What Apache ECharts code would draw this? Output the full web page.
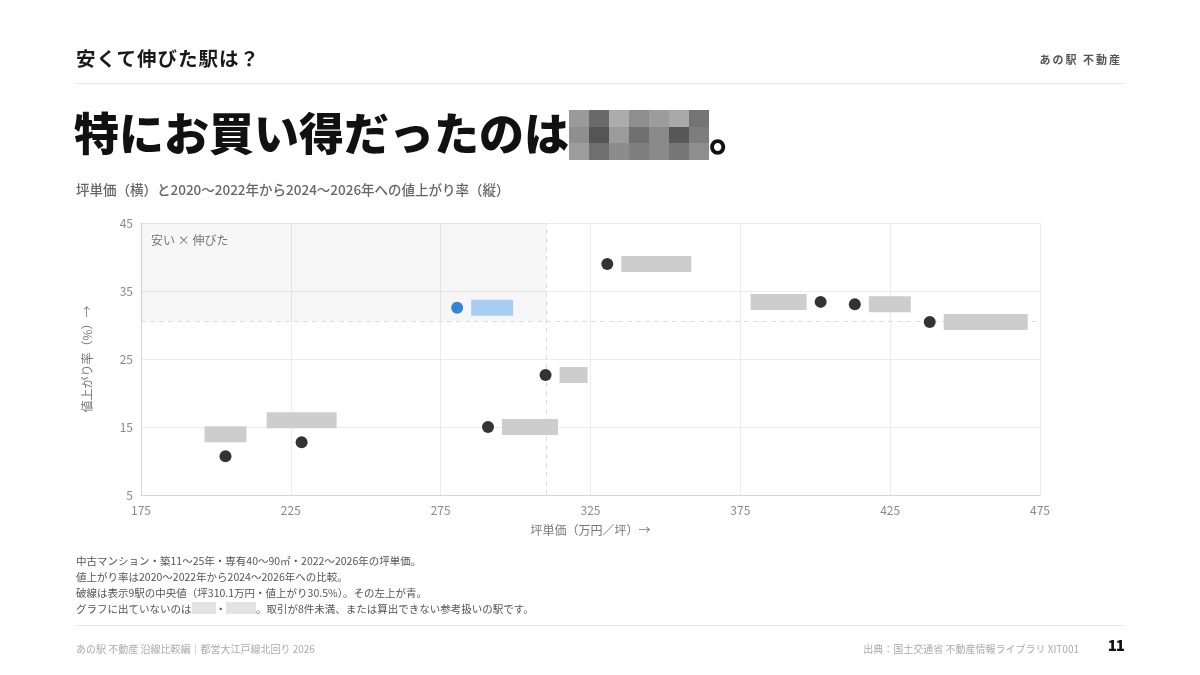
<!DOCTYPE html>
<html>
<head>
<meta charset="utf-8">
<script src="https://cdn.jsdelivr.net/npm/echarts@6/dist/echarts.min.js"></script>
<style>
  html, body { margin: 0; padding: 0; background: #fff; }
  body { width: 1200px; height: 675px; position: relative; overflow: hidden;
         font-family: "Noto Sans CJK JP", "Noto Sans", sans-serif; }
  #chart { position: absolute; left: 0; top: 0; width: 1200px; height: 675px; }
  .abs { position: absolute; white-space: nowrap; }
  .kicker { left: 76px; top: 43px; font-size: 19.5px; font-weight: 700; color: #1a1a1a; letter-spacing: 1px; }
  .brand { right: 78px; top: 51px; font-size: 11px; font-weight: 700; color: #555; letter-spacing: 2px; }
  .rule { left: 76px; width: 1048px; height: 1px; background: #e6e6e6; }
  .title { left: 74px; top: 100px; font-size: 45px; font-weight: 900; color: #111; line-height: 64px; }
  .redact { display: inline-block; vertical-align: -9px; width: 140px; height: 50px; }
  .redact span { float: left; width: 20px; height: 16.66px; }
  .sub { left: 76px; top: 179px; font-size: 13.5px; font-weight: 500; color: #666; }
  .notes { left: 76px; top: 553px; font-size: 10.5px; color: #555; line-height: 16px; }
  .blk { display: inline-block; width: 24px; height: 12px; background: #e2e2e2; vertical-align: -1px; }
  .foot { top: 641px; font-size: 10px; color: #aaa; }
  .page { right: 76px; top: 634px; font-size: 15px; font-weight: 900; color: #111; letter-spacing: -1px; }
</style>
</head>
<body>
<div id="chart"></div>

<div class="abs kicker">安くて伸びた駅は？</div>
<div class="abs brand">あの駅 不動産</div>
<div class="abs rule" style="top:83px"></div>
<div class="abs title">特にお買い得だったのは<span class="redact" id="mosaic"></span>。</div>
<div class="abs sub">坪単価（横）と2020〜2022年から2024〜2026年への値上がり率（縦）</div>

<div class="abs notes">
  中古マンション・築11〜25年・専有40〜90㎡・2022〜2026年の坪単価。<br>
  値上がり率は2020〜2022年から2024〜2026年への比較。<br>
  破線は表示9駅の中央値（坪310.1万円・値上がり30.5%）。その左上が青。<br>
  グラフに出ていないのは<span class="blk"></span>・<span class="blk" style="width:30px"></span>。取引が8件未満、または算出できない参考扱いの駅です。
</div>
<div class="abs rule" style="top:625px"></div>
<div class="abs foot" style="left:76px">あの駅 不動産 沿線比較編｜都営大江戸線北回り 2026</div>
<div class="abs foot" style="right:121px">出典：国土交通省 不動産情報ライブラリ XIT001</div>
<div class="abs page">11</div>

<script>
// station values (names are redacted in the source, only their length is known)
const price = [203.2, 228.6, 280.5, 290.8, 310.0, 330.6, 401.8, 413.2, 438.2];
const growth = [10.7, 12.75, 32.55, 15.0, 22.65, 38.97, 33.4, 33.05, 30.45];
const nameLength = [3, 5, 3, 4, 2, 5, 4, 3, 6];
const labelSide = ['top', 'top', 'right', 'right', 'right', 'right', 'left', 'right', 'right'];
const highlight = [false, false, true, false, false, false, false, false, false];

const medianPrice = 310.1;
const medianGrowth = 30.5;

const xTicks = { min: 175, max: 475, interval: 50 };
const yTicks = { min: 5, max: 45, interval: 10 };

// mosaic for the redacted station name in the headline
const mosaicGrays = [
  '#9a9a9a', '#6a6a6a', '#acacac', '#8e8e8e', '#9c9c9c', '#a9a9a9', '#747474',
  '#8f8f8f', '#555555', '#9b9b9b', '#6f6f6f', '#8a8a8a', '#585858', '#7d7d7d',
  '#9d9d9d', '#707070', '#8c8c8c', '#7f7f7f', '#8a8a8a', '#777777', '#8e8e8e'
];
const mosaic = document.getElementById('mosaic');
mosaicGrays.forEach(c => {
  const s = document.createElement('span');
  s.style.background = c;
  mosaic.appendChild(s);
});

const font = '"Noto Sans CJK JP", "Noto Sans", sans-serif';
const chart = echarts.init(document.getElementById('chart'));

const points = price.map((p, i) => ({
  value: [p, growth[i]],
  itemStyle: { color: highlight[i] ? '#3584d6' : '#333333', opacity: 1 },
  label: {
    show: true,
    position: labelSide[i],
    distance: 8,
    formatter: '{r|' + '\u3000'.repeat(nameLength[i]) + '}',
    rich: {
      r: {
        fontSize: 14,
        height: 16,
        lineHeight: 16,
        fontFamily: font,
        backgroundColor: highlight[i] ? '#a9cdf1' : '#cdcdcd'
      }
    }
  }
}));

chart.setOption({
  backgroundColor: 'transparent',
  animation: false,
  grid: { left: 141, right: 160, top: 223, bottom: 180 },
  xAxis: {
    type: 'value',
    min: xTicks.min, max: xTicks.max, interval: xTicks.interval,
    name: '坪単価（万円／坪）→',
    nameLocation: 'middle',
    nameGap: 29,
    nameTextStyle: { color: '#777', fontSize: 12, fontFamily: font },
    axisLine: { lineStyle: { color: '#d6d6d6' } },
    axisTick: { show: false },
    axisLabel: { color: '#8a8a8a', fontSize: 12, margin: 9, fontFamily: font },
    splitLine: { lineStyle: { color: '#ececec' } }
  },
  yAxis: {
    type: 'value',
    min: yTicks.min, max: yTicks.max, interval: yTicks.interval,
    name: '値上がり率（%）→',
    nameLocation: 'middle',
    nameGap: 48,
    nameTextStyle: { color: '#777', fontSize: 12, fontFamily: font },
    axisLine: { show: true, lineStyle: { color: '#d6d6d6' } },
    axisTick: { show: false },
    axisLabel: { color: '#8a8a8a', fontSize: 12, margin: 8, fontFamily: font },
    splitLine: { lineStyle: { color: '#ececec' } }
  },
  series: [{
    // background guides: quadrant shading and median lines
    type: 'scatter',
    z: 1,
    data: [],
    markArea: {
      silent: true,
      itemStyle: { color: 'rgba(0,0,0,0.035)' },
      label: {
        position: 'insideTopLeft',
        color: '#777',
        fontSize: 12,
        fontFamily: font,
        offset: [5, 6]
      },
      data: [[
        { name: '安い × 伸びた', coord: [xTicks.min, yTicks.max] },
        { coord: [medianPrice, medianGrowth] }
      ]]
    },
    markLine: {
      silent: true,
      symbol: 'none',
      label: { show: false },
      lineStyle: { color: '#dcdcdc', type: [5, 4], width: 1 },
      data: [{ xAxis: medianPrice }, { yAxis: medianGrowth }]
    }
  }, {
    type: 'scatter',
    z: 5,
    symbolSize: 12,
    data: points
  }]
});
</script>
</body>
</html>
